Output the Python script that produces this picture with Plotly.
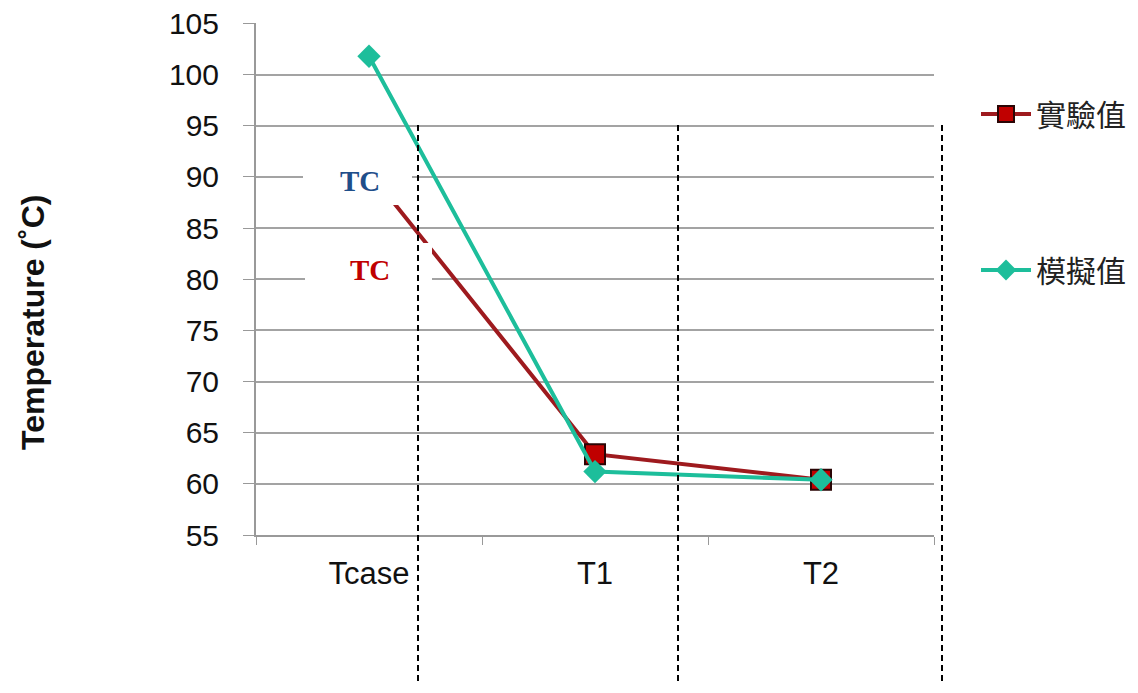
import plotly.graph_objects as go

categories = ["Tcase", "T1", "T2"]
experimental = [90.5, 62.9, 60.4]   # 實驗值
simulated = [101.8, 61.2, 60.4]     # 模擬值
y_ticks = list(range(55, 106, 5))

# page body has an 8px margin; figure sized to fit the 1138x693 window
OFF = 8
W, H = 1138 - 2 * OFF, 693 - 2 * OFF
# plot area in window pixels: x 256..934, y 23..535
PL, PR, PT, PB = 256, 934, 23, 535
L, T = PL - OFF, PT - OFF
R, B = W - (PR - OFF), H - (PB - OFF)
pw, ph = PR - PL, PB - PT

def px(x):
    return (x - PL) / pw

def py(y):
    return (PB - y) / ph

fig = go.Figure()
fig.add_trace(go.Scatter(
    x=categories, y=experimental, name="實驗值", mode="lines+markers",
    line=dict(color="#9E1A1E", width=4),
    marker=dict(symbol="square", size=20, color="#C00000",
                line=dict(color="#2a0505", width=2)),
    legendgroup="a",
))
fig.add_trace(go.Scatter(
    x=categories, y=simulated, name="模擬值", mode="lines+markers",
    line=dict(color="#1DBE9B", width=4),
    marker=dict(symbol="diamond", size=18, color="#1DBE9B",
                line=dict(color="#1DBE9B", width=0)),
    legendgroup="b",
))

shapes = []
# white label boxes
for x0, x1, y0, y1 in [(303, 412, 150, 205), (305, 432, 243, 300)]:
    shapes.append(dict(type="rect", xref="paper", yref="paper",
                       x0=px(x0), x1=px(x1), y0=py(y1), y1=py(y0),
                       fillcolor="white", line=dict(width=0), layer="above"))
# dashed vertical separators
for xv in [418, 678, 942]:
    shapes.append(dict(type="line", xref="paper", yref="paper",
                       x0=px(xv), x1=px(xv), y0=py(125), y1=py(700),
                       line=dict(color="black", width=2, dash="6px,4px"),
                       layer="above"))
fig.update_layout(shapes=shapes)

fig.add_annotation(text="<b>TC</b>", xref="paper", yref="paper", x=px(360), y=py(181),
                   xanchor="center", yanchor="middle", showarrow=False,
                   font=dict(family="Liberation Serif", size=29, color="#1F4E8A"))
fig.add_annotation(text="<b>TC</b>", xref="paper", yref="paper", x=px(370), y=py(270),
                   xanchor="center", yanchor="middle", showarrow=False,
                   font=dict(family="Liberation Serif", size=29, color="#C00000"))
fig.add_annotation(text="<b>Temperature (˚C)</b>", xref="paper", yref="paper",
                   x=px(33), y=py(323), xanchor="center", yanchor="middle",
                   textangle=-90, showarrow=False,
                   font=dict(family="Liberation Sans", size=32, color="#111111"))

fig.update_layout(
    width=W, height=H,
    margin=dict(l=L, r=R, t=T, b=B, pad=0, autoexpand=False),
    paper_bgcolor="white", plot_bgcolor="white",
    font=dict(family="Liberation Sans", color="#111111"),
    showlegend=True,
    legend=dict(x=px(976), y=py(88), xanchor="left", yanchor="top",
                font=dict(family="Noto Sans CJK TC", size=30, color="#222222"),
                tracegroupgap=114, traceorder="grouped", itemwidth=50,
                bgcolor="rgba(0,0,0,0)"),
    xaxis=dict(type="category", range=[-0.5, 2.5], showgrid=False,
               showline=True, linecolor="#999999", linewidth=2,
               ticks="outside", tickson="boundaries", ticklen=8, tickcolor="#999999",
               tickfont=dict(size=31, color="#111111"), ticklabelstandoff=10),
    yaxis=dict(range=[55, 105.05], tickvals=y_ticks, showgrid=True,
               gridcolor="#a3a3a3", gridwidth=2, zeroline=False,
               showline=True, linecolor="#999999", linewidth=2,
               ticks="outside", ticklen=11, tickcolor="#999999",
               ticklabeloverflow="allow",
               tickfont=dict(size=30, color="#111111"), ticklabelstandoff=18),
)

fig.write_html("out.html")
